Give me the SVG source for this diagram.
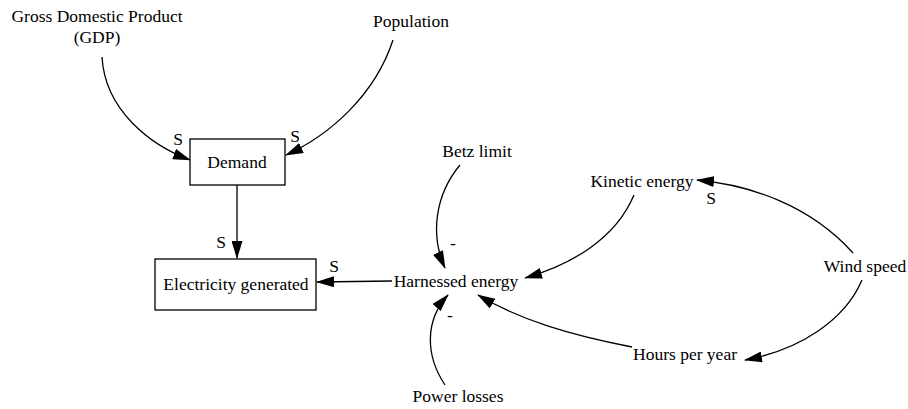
<svg xmlns="http://www.w3.org/2000/svg" width="908" height="409" viewBox="0 0 908 409">
<style>
text{font-family:"Liberation Serif","Times New Roman",serif;font-size:17.5px;fill:#000}
.c{text-anchor:middle}
.l{fill:none;stroke:#000;stroke-width:1.3;marker-end:url(#ah)}
.box{fill:#fff;stroke:#000;stroke-width:1.3}
</style>
<defs>
<marker id="ah" viewBox="0 0 18 11" refX="17" refY="5.5" markerWidth="18" markerHeight="11" markerUnits="userSpaceOnUse" orient="auto">
<path d="M0,0 L18,5.5 L0,11 z" fill="#000"/>
</marker>
</defs>
<g id="connectors">
<path class="l" d="M102,57 C105,110 150,145 190,160"/>
<path class="l" d="M393,40 C375,95 330,135 286,155"/>
<path class="l" d="M237,185 L237,258"/>
<path class="l" d="M392,281 L317,282"/>
<path class="l" d="M460,165 C435,195 430,235 445,268"/>
<path class="l" d="M634,195 C615,240 570,265 525,278"/>
<path class="l" d="M853,253 C810,205 750,185 697,180"/>
<path class="l" d="M862,280 C845,320 800,350 745,360"/>
<path class="l" d="M632,347 C570,335 520,320 478,295"/>
<path class="l" d="M445,385 C425,355 425,320 448,295"/>
<text x="178" y="145" class="c">S</text>
<text x="295" y="142" class="c">S</text>
<text x="221" y="248" class="c">S</text>
<text x="334" y="272" class="c">S</text>
<text x="711" y="204" class="c">S</text>
<text x="453" y="249" class="c">-</text>
<text x="450" y="321" class="c">-</text>
</g>
<g id="gdp"><text x="97" y="22" class="c">Gross Domestic Product</text><text x="97" y="43" class="c">(GDP)</text></g>
<g id="population"><text x="411" y="27" class="c">Population</text></g>
<g id="demand"><rect class="box" x="190" y="139" width="95" height="46"/><text x="237" y="168" class="c">Demand</text></g>
<g id="electricity"><rect class="box" x="155" y="259" width="161" height="51"/><text x="236" y="290" class="c">Electricity generated</text></g>
<g id="harnessed"><text x="456" y="287" class="c">Harnessed energy</text></g>
<g id="betz"><text x="477" y="157" class="c">Betz limit</text></g>
<g id="kinetic"><text x="642" y="187" class="c">Kinetic energy</text></g>
<g id="wind"><text x="865" y="272" class="c">Wind speed</text></g>
<g id="hours"><text x="685" y="360" class="c">Hours per year</text></g>
<g id="power"><text x="458" y="402" class="c">Power losses</text></g>
</svg>
